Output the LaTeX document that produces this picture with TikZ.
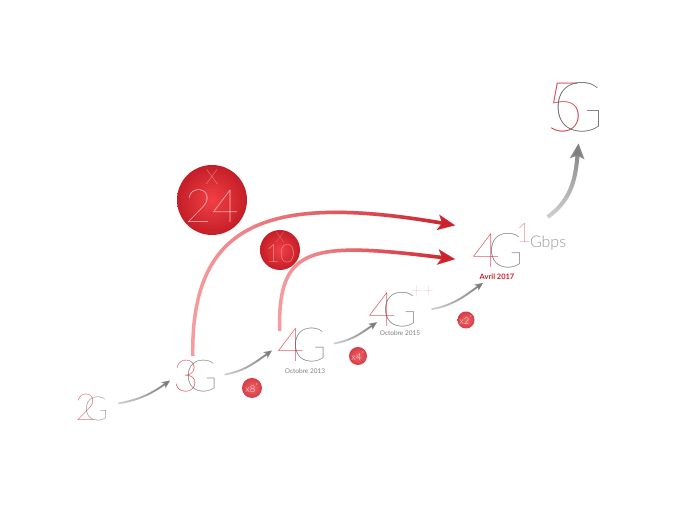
\documentclass[tikz,border=0pt]{standalone}
\usepackage{fontspec}
\setmainfont{Lato}
\newfontfamily\thinfont{Lato Thin}
\newfontfamily\lightfont{Lato Light}
\usetikzlibrary{arrows.meta,fadings,calc}
\definecolor{gred}{RGB}{210,30,42}
\definecolor{ggray}{RGB}{80,80,80}
\definecolor{lred}{RGB}{247,158,160}
\definecolor{dred}{RGB}{204,32,42}
\definecolor{lgray}{RGB}{210,210,210}
\definecolor{dgray}{RGB}{125,125,125}
\definecolor{ired}{RGB}{242,64,68}
\definecolor{ored}{RGB}{196,30,40}
\definecolor{pred}{RGB}{238,100,106}
\definecolor{qred}{RGB}{214,60,68}
\definecolor{plus}{RGB}{232,120,126}
\tikzfading[name=toeast,left color=transparent!100,right color=transparent!0]
\tikzfading[name=tonorth,bottom color=transparent!100,top color=transparent!0]
\begin{document}
\begin{tikzpicture}[x=1pt,y=1pt,every node/.style={inner sep=0pt,outer sep=0pt},
  dig/.style={anchor=base west,text=gred,font=\thinfont\fontsize{#1}{#1}\selectfont},
  gee/.style={anchor=base west,text=ggray,font=\thinfont\fontsize{#1}{#1}\selectfont},
  when/.style={text=gray,font=\fontsize{6.5}{7}\selectfont},
  bigdot/.style={circle,shading=radial,inner color=ired,outer color=ored,minimum size=#1},
  smalldot/.style={circle,shading=radial,inner color=pred,outer color=qred,minimum size=#1,
    text=white!92!red,font=\lightfont\fontsize{9.5}{9.5}\selectfont},
  inlabel/.style={text=white,font=\thinfont\fontsize{#1}{#1}\selectfont},
  hop/.style={line width=1.8pt,-{Stealth[length=8pt,width=7pt,inset=2pt]}},
  leap/.style={line width=3.5pt,-{Stealth[length=17pt,width=15pt,inset=4pt]}}]
\fill[white] (0,0) rectangle (680,510);
\useasboundingbox (0,0) rectangle (680,510);
\node[dig=37] (n2) at (75,89) {2};
\node[gee=33] (g2) at (84,89) {G};
\node[dig=44] (n3) at (173,118) {3};
\node[gee=44] (g3) at (185,118) {G};
\node[dig=47] (n4) at (277,148) {4};
\node[gee=47] (g4) at (292,148) {G};
\node[dig=48] (n4p) at (368,183) {4};
\node[gee=48] (g4p) at (382,183) {G};
\node[anchor=base west,text=plus,font=\thinfont\fontsize{20}{20}\selectfont] (pp) at (411,212) {++};
\node[dig=48] (n4g) at (472,242) {4};
\node[gee=48] (g4g) at (488,242) {G};
\node[dig=27] (one) at (516,267) {1};
\node[anchor=base west,text=gray!80,font=\lightfont\fontsize{16}{16}\selectfont] (gbps) at (530,262) {Gbps};
\node[dig=69] (n5) at (545,378) {5};
\node[gee=69] (g5) at (553,378) {G};
\node[when] (oct13) at (305,139) {Octobre 2013};
\node[when] (oct15) at (400,177) {Octobre 2015};
\node[text=gred,font=\bfseries\fontsize{7.5}{8}\selectfont] (avr) at (497,233) {Avril 2017};
\node[bigdot=70pt] (c24) at (212,310) {};
\node[inlabel=46] (t24) at ([yshift=-6pt]c24.center) {24};
\node[inlabel=21] (x24) at ([yshift=23pt]c24.center) {X};
\node[bigdot=40pt] (c10) at (280,260) {};
\node[inlabel=25] (t10) at ([yshift=-4pt]c10.center) {10};
\node[inlabel=14] (x10) at ([yshift=12pt]c10.center) {X};
\node[smalldot=20pt] (c8) at (252,122) {x8\textsuperscript{*}};
\node[smalldot=18pt] (c4) at (358,154) {x4\textsuperscript{*}};
\node[smalldot=17pt] (c2) at (466,190) {x2\textsuperscript{*}};
\coordinate (s24) at ([xshift=7pt,yshift=5pt]n3.north);
\coordinate (e24) at ([xshift=-17pt,yshift=9pt]n4g.north west);
\coordinate (s10) at ([xshift=-11pt,yshift=-2pt]n4.north);
\coordinate (e10) at ([xshift=-17pt,yshift=-8pt]n4g.west);
\coordinate (h1) at ([xshift=10pt,yshift=6pt]g2.east);
\coordinate (k1) at ([xshift=-3pt,yshift=-4pt]n3.west);
\coordinate (h2) at ([xshift=7pt,yshift=2pt]g3.east);
\coordinate (k2) at ([xshift=-5pt,yshift=-5pt]n4.west);
\coordinate (h3) at ([xshift=7pt,yshift=2pt]g4.east);
\coordinate (k3) at ([xshift=9pt,yshift=-12pt]n4p.west);
\coordinate (h4) at ([xshift=14pt,yshift=1pt]g4p.east);
\coordinate (k4) at ([xshift=11pt,yshift=-15pt]n4g.south west);
\coordinate (h5) at ([xshift=16pt,yshift=7pt]one.north east);
\coordinate (k5) at ([yshift=-11pt]g5.south);
\draw[leap,lred] (s24) .. controls ($(s24)+(-2,135)$) and ($(e24)+(-185,32)$) .. (e24);
\draw[leap,dred,path fading=toeast] (s24) .. controls ($(s24)+(-2,135)$) and ($(e24)+(-185,32)$) .. (e24);
\draw[leap,lred] (s10) .. controls ($(s10)+(-2,85)$) and ($(e10)+(-145,18)$) .. (e10);
\draw[leap,dred,path fading=toeast] (s10) .. controls ($(s10)+(-2,85)$) and ($(e10)+(-145,18)$) .. (e10);
\foreach \i in {1,...,4}{
  \draw[hop,lgray] (h\i) to[out=10,in=215] (k\i);
  \draw[hop,dgray,path fading=toeast] (h\i) to[out=10,in=215] (k\i);}
\draw[line width=4pt,lgray,-{Stealth[length=15pt,width=14pt,inset=3pt]}] (h5) to[out=35,in=265] (k5);
\draw[line width=4pt,dgray,path fading=tonorth,-{Stealth[length=15pt,width=14pt,inset=3pt]}] (h5) to[out=35,in=265] (k5);
\end{tikzpicture}
\end{document}
